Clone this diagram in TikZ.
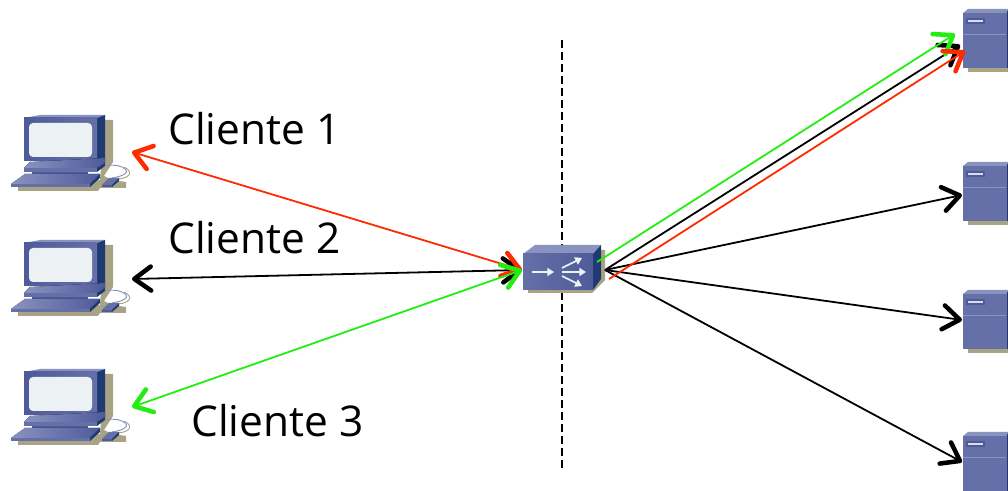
\documentclass[tikz,border=0pt]{standalone}
\usepackage{fontspec}
\setmainfont{Open Sans}
\usetikzlibrary{arrows.meta}
\definecolor{shad}{HTML}{A9A385}
\definecolor{dkblue}{HTML}{1F3A72}
\definecolor{midblue}{HTML}{6570A8}
\definecolor{liteblue}{HTML}{8A93C0}
\definecolor{paleblue}{HTML}{4F5A9A}
\definecolor{scr}{HTML}{ECF1F4}
\definecolor{redl}{HTML}{FF2A00}
\definecolor{greenl}{HTML}{22EE11}
\tikzset{
  tip/.tip={Straight Barb[length=12.5pt,width=18pt,line width=3.4pt,round]},
  link/.style={line width=1.35pt},
  blackl/.style={link,black},
  redline/.style={link,redl},
  greenline/.style={link,greenl},
  lbl/.style={anchor=base west,inner sep=0pt,font=\fontsize{31.8}{31.8}\selectfont},
  anchorbox/.style={inner sep=0pt,minimum width=#1,draw=none},
  pics/pc/.style={code={
    \fill[shad] (105,20)--(113,20)--(113,62)--(104,76)--(112,80)--(126,82)--(126,88)--(100,88)--(98,91)--(18,91)--(18,85)--(100,80)--cycle;
    \fill[liteblue] (24,18)--(40,15)--(105,15)--(97,18)--cycle;
    \fill[dkblue] (97,18)--(105,15)--(105,58)--(97,62)--cycle;
    \fill[left color=paleblue,right color=midblue] (24,18) rectangle (97,61);
    \fill[scr,rounded corners=3pt] (29,23) rectangle (92,57);
    \fill[left color=liteblue,right color=paleblue] (24,68)--(30,62)--(105,58)--(105,63)--(97,68)--cycle;
    \fill[midblue] (24,68) rectangle (97,72);
    \fill[dkblue] (97,68)--(105,63)--(105,66)--(97,72)--cycle;
    \fill[paleblue] (32,72) rectangle (88,75);
    \fill[left color=liteblue,right color=paleblue] (11,84)--(25,74)--(100,74)--(90,84)--cycle;
    \fill[midblue] (11,84) rectangle (90,87);
    \fill[dkblue] (90,84)--(100,74)--(100,78)--(90,87)--cycle;
    \draw[liteblue,line width=.7pt] (112,78) .. controls (124,76) and (132,72) .. (122,67) .. controls (116,64) and (110,66) .. (105,65);
    \draw[shad,line width=.7pt] (118,79) .. controls (130,78) and (134,72) .. (124,67);
    \fill[midblue] (102,85)--(109,78)--(119,78)--(112,85)--cycle;
    \fill[paleblue] (102,85) rectangle (112,87);
    \fill[dkblue] (112,85)--(119,78)--(119,81)--(112,87)--cycle;
  }},
  pics/srv/.style={code={
    \fill[shad] (968,68) rectangle (1008,72);
    \fill[midblue] (963,13) rectangle (1008,68);
    \fill[liteblue] (963,13)--(968,9)--(1008,9)--(1008,13)--cycle;
    \fill[dkblue] (1006.5,11) rectangle (1008,68);
    \draw[liteblue,line width=.5pt] (963,34.5)--(1006,34.5);
    \fill[paleblue] (966,18) rectangle (985,24);
    \fill[scr!85!midblue] (968,20) rectangle (983,21.8);
  }}
}
\begin{document}
\begin{tikzpicture}[x=0.75pt,y=-0.75pt]
\useasboundingbox (0,0) rectangle (1008,491);
\coordinate (dtop) at (562,40);
\coordinate (dbot) at (562,469);
\draw[black,line width=1pt,dash pattern=on 6pt off 3pt] (dtop)--(dbot);
% clients
\pic at (0,100) {pc};
\pic at (0,225) {pc};
\pic at (0,354) {pc};
\node[anchorbox=115pt,minimum height=60pt] (client1) at (68,153) {};
\node[anchorbox=115pt,minimum height=60pt] (client2) at (68,278) {};
\node[anchorbox=115pt,minimum height=60pt] (client3) at (68,407) {};
% servers
\pic at (0,0) {srv};
\pic at (0,153) {srv};
\pic at (0,281) {srv};
\pic at (0,423) {srv};
\node[anchorbox=34pt,minimum height=44pt] (server1) at (985,40) {};
\node[anchorbox=34pt,minimum height=44pt] (server2) at (985,193) {};
\node[anchorbox=34pt,minimum height=44pt] (server3) at (985,321) {};
\node[anchorbox=34pt,minimum height=44pt] (server4) at (985,463) {};
% switch
\fill[shad] (528,290)--(528,293)--(592,293)--(605,280)--(605,250)--(601,250)--(593,290)--cycle;
\fill[liteblue] (523,254)--(535,245)--(601,245)--(593,254)--cycle;
\fill[dkblue] (593,254)--(601,245)--(601,279)--(593,290)--cycle;
\fill[left color=midblue,right color=paleblue] (523,254) rectangle (593,290);
\node[anchorbox=60pt,minimum height=30pt] (switch) at (562,270) {};
\foreach \a/\b in {532/554,562/586}{
  \draw[scr,line width=1.3pt,-{Triangle[length=5pt,width=6pt]}] (\a,272)--(\b,272);
}
\draw[scr,line width=1.3pt,-{Triangle[length=5pt,width=6pt]}] (562,268)--(582,258);
\draw[scr,line width=1.3pt,-{Triangle[length=5pt,width=6pt]}] (562,276)--(582,286);
% connector points
\coordinate (a1) at (132,152); \coordinate (a2) at (132,279); \coordinate (a3) at (132,407);
\coordinate (swl) at (522,270);
\coordinate (swg) at (597,262); \coordinate (swb) at (605,270); \coordinate (swr) at (609,279);
\coordinate (s1g) at (955,34); \coordinate (s1b) at (960,45); \coordinate (s1r) at (965,51);
\coordinate (s2) at (962,195); \coordinate (s3) at (962,320); \coordinate (s4) at (962,462);
% links
\draw[blackl,{tip}-{tip}] (a2)--(swl);
\draw[redline,{tip}-{tip}] (a1)--(swl);
\draw[greenline,{tip}-{tip}] (a3)--(swl);
\draw[blackl,-{tip}] (swb)--(s1b);
\draw[blackl,-{tip}] (swb)--(s2);
\draw[blackl,-{tip}] (swb)--(s3);
\draw[blackl,-{tip}] (swb)--(s4);
\draw[greenline,-{tip}] (swg)--(s1g);
\draw[redline,-{tip}] (swr)--(s1r);
% labels
\node[lbl] (l1) at (168,145) {Cliente 1};
\node[lbl] (l2) at (168,254) {Cliente 2};
\node[lbl] (l3) at (191,437) {Cliente 3};
\end{tikzpicture}
\end{document}
